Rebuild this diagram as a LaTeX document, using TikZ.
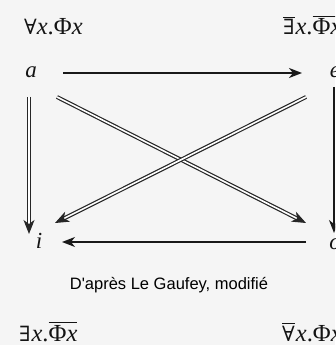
\documentclass[tikz,border=0pt]{standalone}
\usepackage{fontspec}
\setmainfont{Liberation Serif}
\newfontfamily\symfont{DejaVu Serif}
\newfontfamily\capfont{Liberation Sans}
\usetikzlibrary{arrows.meta}
\newcommand{\myfa}{{\symfont\fontsize{21}{21}\selectfont ∀}}
\newcommand{\myex}{{\symfont\fontsize{21}{21}\selectfont ∃}}
\newcommand{\ovl}[1]{\leavevmode\vbox{\hrule height 1.2pt\kern1.6pt\hbox{#1}}}
\begin{document}
\begin{tikzpicture}[x=1pt,y=1pt,
  lbl/.style={inner sep=0pt,font=\fontsize{24.5}{24.5}\selectfont,text=black!92},
  vtx/.style={inner sep=0pt,font=\fontsize{23}{23}\selectfont\itshape,text=black!92},
  solidarr/.style={draw=black!90,line width=2.8pt,-{Stealth[length=13pt,width=10pt,inset=4pt]}},
  thinarr/.style={draw=black!90,line width=1.5pt,-{Stealth[length=13pt,width=10pt,inset=4pt]}},
  dblarr/.style={draw=black!85,line width=1.2pt,double=white,double distance=1.6pt,-{Stealth[length=14pt,width=11pt,inset=4pt,fill=black!85]}}]
\useasboundingbox (0,0) rectangle (335,345);
\fill[black!4] (0,0) rectangle (335,345);
\clip (0,0) rectangle (335,345);
% formula labels
\node[lbl,anchor=base west] (tl) at (24,310) {\myfa\textit{x}.Φ\textit{x}};
\node[lbl,anchor=base west] (tr) at (283,310) {\ovl{\myex}\kern1pt\textit{x}.\ovl{Φ\textit{x}}};
\node[lbl,anchor=base west] (bl) at (19,4) {\myex\kern1pt\textit{x}.\ovl{Φ\textit{x}}};
\node[lbl,anchor=base west] (br) at (282,4) {\ovl{\myfa}\kern1pt\textit{x}.Φ\textit{x}};
% vertices
\node[vtx] (a) at (31,273) {a};
\node[vtx] (e) at (335,273) {e};
\node[vtx] (i) at (39,104) {i};
\node[vtx] (o) at (335,101) {o};
% caption
\node[inner sep=0pt,font=\capfont\fontsize{16.5}{16.5}\selectfont,text=black] (cap) at (169,60) {D'après Le Gaufey, modifié};
% coordinates for connectors
\coordinate (a1) at (63,272);
\coordinate (e1) at (302,272);
\coordinate (i1) at (62,103);
\coordinate (o1) at (306,103);
\coordinate (av) at (29,248);
\coordinate (iv) at (29,111);
\coordinate (ad) at (57,248);
\coordinate (od) at (306,122);
\coordinate (ed) at (306,248);
\coordinate (id) at (55,122);
\coordinate (ev) at (334,258);
\coordinate (ov) at (334,112);
% connectors
\draw[solidarr] (a1) -- (e1);
\draw[thinarr] (o1) -- (i1);
\draw[dblarr] (av) -- (iv);
\draw[dblarr] (ad) -- (od);
\draw[dblarr] (ed) -- (id);
\draw[thinarr] (ev) -- (ov);
\end{tikzpicture}
\end{document}
